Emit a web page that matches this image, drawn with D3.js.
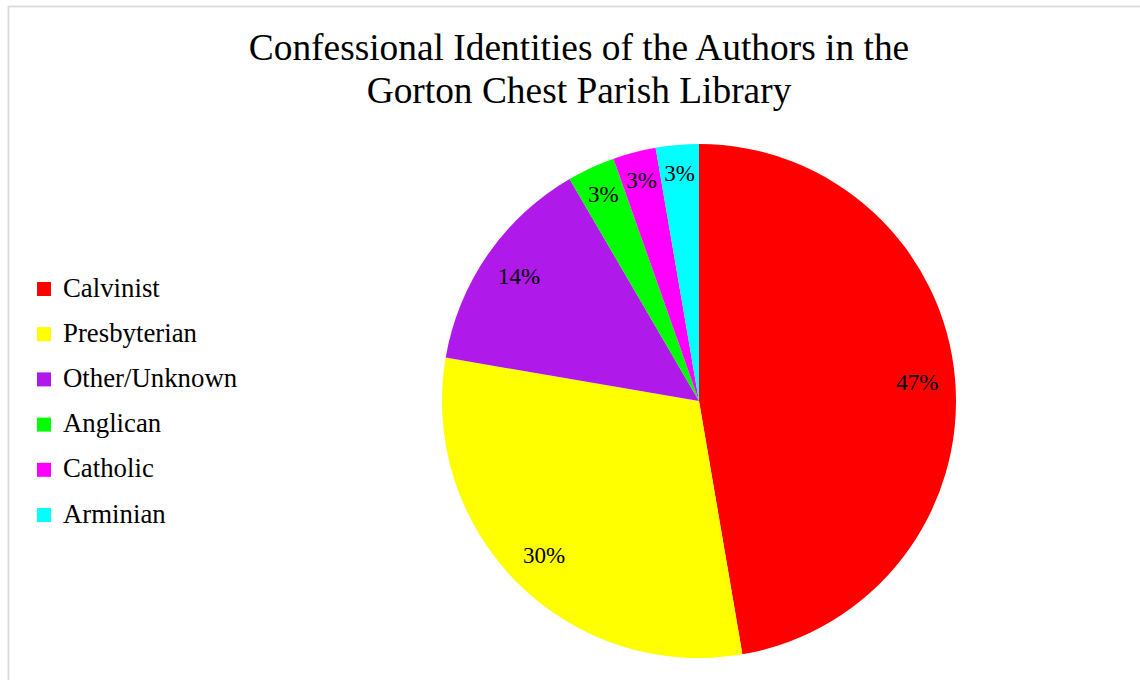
<!DOCTYPE html>
<html>
<head>
<meta charset="utf-8">
<script src="https://cdn.jsdelivr.net/npm/d3@7"></script>
<style>
  html, body { margin: 0; padding: 0; background: #fff; }
  svg { display: block; }
  text { font-family: "Liberation Serif", "Times New Roman", serif; fill: #000; }
</style>
</head>
<body>
<svg id="chart" width="1140" height="680"></svg>
<script>
const categories = ["Calvinist", "Presbyterian", "Other/Unknown", "Anglican", "Catholic", "Arminian"];
const values = [47.3, 30.4, 13.9, 3.0, 2.7, 2.7];
const colors = ["#FF0000", "#FFFF00", "#AF1AEB", "#00FF00", "#FF00FF", "#00FFFF"];
const titleLines = ["Confessional Identities of the Authors in the", "Gorton Chest Parish Library"];

const svg = d3.select("#chart");
const W = 1140, H = 680;

svg.append("rect").attr("x", 0).attr("y", 0).attr("width", W).attr("height", H).attr("fill", "#fff");
svg.append("rect")
  .attr("x", 8.5).attr("y", 6.5).attr("width", W + 20).attr("height", H + 20)
  .attr("fill", "none").attr("stroke", "#d9d9d9").attr("stroke-width", 1.8);

// Title
svg.append("g").selectAll("text").data(titleLines).join("text")
  .attr("x", 579).attr("y", (d, i) => 60 + i * 42.5)
  .attr("text-anchor", "middle")
  .style("font-size", "37.4px")
  .text(d => d);

// Pie
const cx = 699, cy = 401, R = 257;
const data = categories.map((c, i) => ({ name: c, value: values[i], color: colors[i] }));
const pie = d3.pie().value(d => d.value).sort(null).startAngle(0).endAngle(2 * Math.PI);
const arcs = pie(data);
const arc = d3.arc().innerRadius(0).outerRadius(R);
const total = d3.sum(values);
const labelPos = d => {
  const r = d.data.value / total < 0.05 ? 228 : 219;
  return d3.arc().innerRadius(r).outerRadius(r).centroid(d);
};

const g = svg.append("g").attr("transform", `translate(${cx},${cy})`);
g.selectAll("path").data(arcs).join("path")
  .attr("d", arc)
  .attr("fill", d => d.data.color);

g.selectAll("text").data(arcs).join("text")
  .attr("transform", d => `translate(${labelPos(d)})`)
  .attr("text-anchor", "middle")
  .attr("dominant-baseline", "central")
  .style("font-size", "23px")
  .text(d => Math.round(d.data.value / total * 100) + "%");

// Legend
const leg = svg.append("g");
const rows = leg.selectAll("g").data(data).join("g")
  .attr("transform", (d, i) => `translate(0, ${289 + i * 45.2})`);
rows.append("rect")
  .attr("x", 37).attr("y", -7).attr("width", 14).attr("height", 14)
  .attr("fill", d => d.color);
rows.append("text")
  .attr("x", 63).attr("y", 7.5)
  .style("font-size", "26.8px")
  .text(d => d.name);
</script>
</body>
</html>
